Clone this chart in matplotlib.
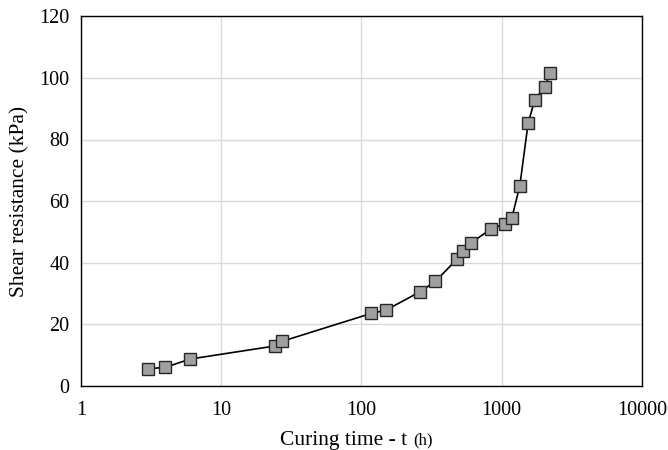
import matplotlib
matplotlib.use("Agg")
import matplotlib.pyplot as plt

plt.rcParams['font.family'] = ['Liberation Serif', 'DejaVu Serif']

time_h = [3.0, 4.0, 6.05, 24.1, 27.1, 118, 149, 262, 337, 481, 528, 600, 840, 1052, 1180, 1346, 1543, 1721, 2020, 2227]
shear_kpa = [5.6, 6.1, 8.8, 13.0, 14.5, 23.6, 24.6, 30.6, 34.0, 41.2, 43.7, 46.3, 51.0, 52.6, 54.5, 64.9, 85.2, 92.9, 97.0, 101.5]
x_ticks = [1, 10, 100, 1000, 10000]
x_tick_labels = ["1", "10", "100", "1000", "10000"]
y_ticks = [0, 20, 40, 60, 80, 100, 120]

fig = plt.figure(figsize=(6.68, 4.5), dpi=100)
ax = fig.add_axes([0.121, 0.142, 0.840, 0.822])
ax.plot(time_h, shear_kpa, color='black', lw=1.2, marker='s', markersize=8.5,
        markerfacecolor='#a0a0a0', markeredgecolor='#262626', markeredgewidth=1.0, zorder=3)
ax.set_xscale('log')
ax.set_xlim(1, 10000)
ax.set_ylim(0, 120)
ax.set_xticks(x_ticks)
ax.set_xticklabels(x_tick_labels)
ax.minorticks_off()
ax.set_yticks(y_ticks)
ax.tick_params(axis='both', length=0, labelsize=14.5)
ax.tick_params(axis='x', pad=11)
ax.tick_params(axis='y', pad=8)
ax.grid(True, color='#d9d9d9', lw=1.0)
ax.set_axisbelow(True)
for s in ax.spines.values():
    s.set_color('black')
    s.set_linewidth(1.0)
fig.text(0.029, 0.142 + 0.822/2, 'Shear resistance (kPa)', fontsize=15.5,
         rotation=90, ha='center', va='center')
cx = 0.618
fig.text(cx, 0.012, 'Curing time - t ', fontsize=15.5, ha='right', va='baseline')
fig.text(cx, 0.012, '(h)', fontsize=12, ha='left', va='baseline')
fig.savefig('out.png', dpi=100)
